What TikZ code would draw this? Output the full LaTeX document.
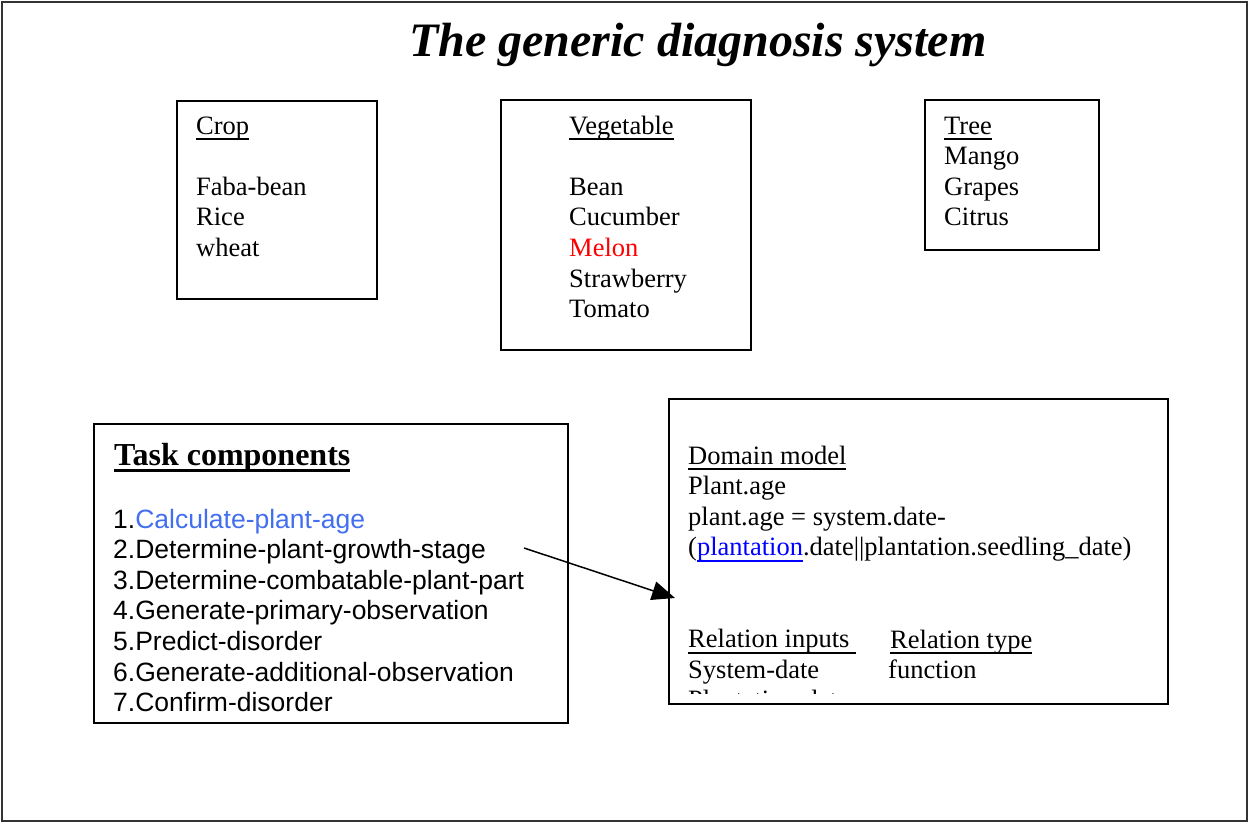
\documentclass[tikz,border=0pt]{standalone}
\usepackage{fontspec}
\setmainfont{Liberation Serif}
\newfontfamily\arialfont{Liberation Sans}
\usetikzlibrary{arrows.meta}
\definecolor{taskblue}{RGB}{66,110,240}
\definecolor{linkblue}{RGB}{0,0,255}
\definecolor{melonred}{RGB}{255,0,0}
\newsavebox{\myulbox}
\newcommand{\myul}[1]{\sbox{\myulbox}{#1}\rlap{\rule[-6pt]{\wd\myulbox}{2pt}}\usebox{\myulbox}}
\newcommand{\myulthick}[1]{\sbox{\myulbox}{#1}\rlap{\rule[-7pt]{\wd\myulbox}{3pt}}\usebox{\myulbox}}
\begin{document}
\begin{tikzpicture}[x=1pt,y=-1pt,
  box/.style={draw=black, line width=2pt, inner sep=0pt, anchor=north west},
  txt/.style={anchor=base west, inner sep=0pt, font=\fontsize{26.5}{30.6}\selectfont},
  sanstxt/.style={anchor=base west, inner sep=0pt, font=\arialfont\fontsize{26.5}{30.6}\selectfont},
  connector/.style={line width=1.5pt, -{Triangle[length=23pt,width=19pt]}}]
\useasboundingbox (0,0) rectangle (1248,822);
\node[draw=black!80, line width=2pt, minimum width=1245, minimum height=819, anchor=north west, inner sep=0pt] (slide) at (1,1) {};

\node[anchor=base west, inner sep=0pt, font=\fontsize{48}{55}\selectfont\bfseries\itshape] (title) at (409,56) {The generic diagnosis system};

% top boxes
\node[box, minimum width=200, minimum height=198] (cropbox) at (176,100) {};
\node[txt] (croptext) at (196,134) {\begin{tabular}[t]{@{}l@{}}\myul{Crop}\\ \\ Faba-bean\\ Rice\\ wheat\end{tabular}};

\node[box, minimum width=250, minimum height=250] (vegbox) at (500,99) {};
\node[txt] (vegtext) at (569,134) {\begin{tabular}[t]{@{}l@{}}\myul{Vegetable}\\ \\ Bean\\ Cucumber\\ \textcolor{melonred}{Melon}\\ Strawberry\\ Tomato\end{tabular}};

\node[box, minimum width=174, minimum height=150] (treebox) at (924,99) {};
\node[txt] (treetext) at (944,134) {\begin{tabular}[t]{@{}l@{}}\myul{Tree}\\ Mango\\ Grapes\\ Citrus\end{tabular}};

% task components
\node[box, minimum width=474, minimum height=299] (taskbox) at (93,423) {};
\node[anchor=base west, inner sep=0pt, font=\fontsize{32}{36}\selectfont\bfseries] (taskhead) at (114,465) {\myulthick{Task components}};
\node[sanstxt] (tasklist) at (113,528) {\begin{tabular}[t]{@{}l@{}}1.\textcolor{taskblue}{Calculate-plant-age}\\ 2.Determine-plant-growth-stage\\ 3.Determine-combatable-plant-part\\ 4.Generate-primary-observation\\ 5.Predict-disorder\\ 6.Generate-additional-observation\\ 7.Confirm-disorder\end{tabular}};

% domain model
\node[box, minimum width=499, minimum height=305] (domainbox) at (668,398) {};
\begin{scope}
\clip (668,398) rectangle (1167,693);
\node[txt] (domaintext) at (688,464) {\begin{tabular}[t]{@{}l@{}}\myul{Domain model}\\ Plant.age\\ plant.age = system.date-\\ (\textcolor{linkblue}{\myul{plantation}}.date||plantation.seedling\_date)\\ \\ \\ \myul{Relation inputs\ }\\ System-date\\ Plantation-date\end{tabular}};
\node[txt] (reltype) at (890,648) {\begin{tabular}[t]{@{}l@{}}\myul{Relation type}\\ \hspace{-2pt}function\end{tabular}};
\end{scope}

% connector
\coordinate (arrowstart) at (524,548);
\coordinate (arrowend) at (675,598);
\draw[connector] (arrowstart) -- (arrowend);
\end{tikzpicture}
\end{document}
